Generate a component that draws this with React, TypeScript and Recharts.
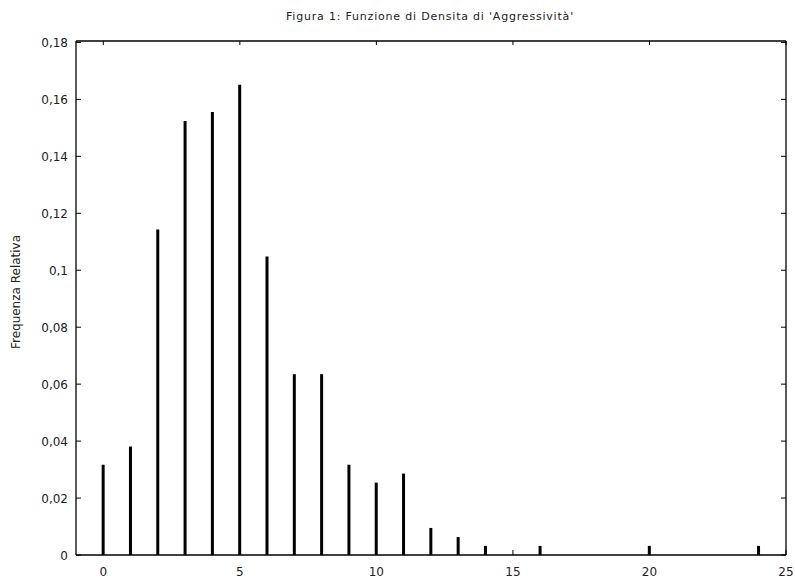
import React from "react";
import { BarChart, Bar, XAxis, YAxis } from "recharts";

const scores = [0, 1, 2, 3, 4, 5, 6, 7, 8, 9, 10, 11, 12, 13, 14, 16, 20, 24];
const relFreq = [
  0.0317, 0.0381, 0.1143, 0.1524, 0.1556, 0.1651, 0.1048, 0.0635, 0.0635,
  0.0317, 0.0254, 0.0286, 0.0095, 0.0063, 0.0032, 0.0032, 0.0032, 0.0032,
];
const xTicks = [0, 5, 10, 15, 20, 25];
const yTicks = [0, 0.02, 0.04, 0.06, 0.08, 0.1, 0.12, 0.14, 0.16, 0.18];

const data = scores.map((s, i) => ({ score: s, freq: relFreq[i] }));

const FONT = "'DejaVu Sans', Verdana, sans-serif";
// frame edges of the plot area
const TOP = 41;
const BOTTOM = 555;
const LEFT = 76;
const RIGHT = 786;

const fmtY = (v: number) =>
  v === 0 ? "0" : String(+v.toFixed(2)).replace(".", ",");

const BottomTick = (props: any) => {
  const { x, payload } = props;
  return (
    <g>
      <line x1={x} x2={x} y1={BOTTOM} y2={BOTTOM - 5} stroke="#000" strokeWidth={1} />
      <text x={x} y={BOTTOM + 21} textAnchor="middle" fontSize={12} fill="#222" fontFamily={FONT}>
        {payload.value}
      </text>
    </g>
  );
};

const TopTick = (props: any) => {
  const { x } = props;
  return <line x1={x} x2={x} y1={TOP} y2={TOP + 4} stroke="#000" strokeWidth={1} />;
};

const LeftTick = (props: any) => {
  const { y, payload } = props;
  return (
    <g>
      <line x1={LEFT} x2={LEFT + 5} y1={y} y2={y} stroke="#000" strokeWidth={1} />
      <text x={LEFT - 8} y={y + 4.5} textAnchor="end" fontSize={12} fill="#222" fontFamily={FONT}>
        {fmtY(payload.value)}
      </text>
    </g>
  );
};

const RightTick = (props: any) => {
  const { y } = props;
  return <line x1={RIGHT} x2={RIGHT - 5} y1={y} y2={y} stroke="#000" strokeWidth={1} />;
};

export default function App() {
  return (
    <div style={{ position: "absolute", left: 0, top: 0, width: 795, height: 578, background: "#fff" }}>
      <svg width={795} height={578} style={{ position: "absolute", left: 0, top: 0 }}>
        <text
          x={430}
          y={20}
          textAnchor="middle"
          fontSize={11}
          letterSpacing={0.8}
          fill="#222"
          fontFamily={FONT}
        >
          Figura 1: Funzione di Densita di 'Aggressività'
        </text>
        <text
          x={20}
          y={292}
          transform="rotate(-90 20 292)"
          textAnchor="middle"
          fontSize={12}
          fill="#222"
          fontFamily={FONT}
        >
          Frequenza Relativa
        </text>
      </svg>
      <div style={{ position: "absolute", left: 0, top: 0 }}>
        <BarChart
          width={795}
          height={578}
          data={data}
          margin={{ top: 40, right: 8, bottom: 0, left: 0 }}
        >
          <XAxis
            xAxisId="bottom"
            dataKey="score"
            type="number"
            domain={[-1, 25]}
            ticks={xTicks}
            allowDataOverflow
            height={23}
            tickSize={0}
            tickMargin={0}
            tickLine={false}
            axisLine={{ stroke: "#000", strokeWidth: 1.3 }}
            tick={<BottomTick />}
            interval={0}
          />
          <XAxis
            xAxisId="top"
            dataKey="score"
            type="number"
            orientation="top"
            domain={[-1, 25]}
            ticks={xTicks}
            allowDataOverflow
            height={1}
            tickSize={0}
            tickMargin={0}
            tickLine={false}
            axisLine={{ stroke: "#000", strokeWidth: 1.3 }}
            tick={<TopTick />}
            interval={0}
          />
          <YAxis
            yAxisId="left"
            type="number"
            domain={[0, 0.1805]}
            ticks={yTicks}
            allowDataOverflow
            width={76}
            tickSize={0}
            tickMargin={0}
            tickLine={false}
            axisLine={{ stroke: "#000", strokeWidth: 1.3 }}
            tick={<LeftTick />}
            interval={0}
          />
          <YAxis
            yAxisId="right"
            type="number"
            orientation="right"
            domain={[0, 0.1805]}
            ticks={yTicks}
            allowDataOverflow
            width={1}
            tickSize={0}
            tickMargin={0}
            tickLine={false}
            axisLine={{ stroke: "#000", strokeWidth: 1.3 }}
            tick={<RightTick />}
            interval={0}
          />
          <Bar
            xAxisId="bottom"
            yAxisId="left"
            dataKey="freq"
            fill="#000"
            barSize={3}
            isAnimationActive={false}
          />
        </BarChart>
      </div>
    </div>
  );
}
